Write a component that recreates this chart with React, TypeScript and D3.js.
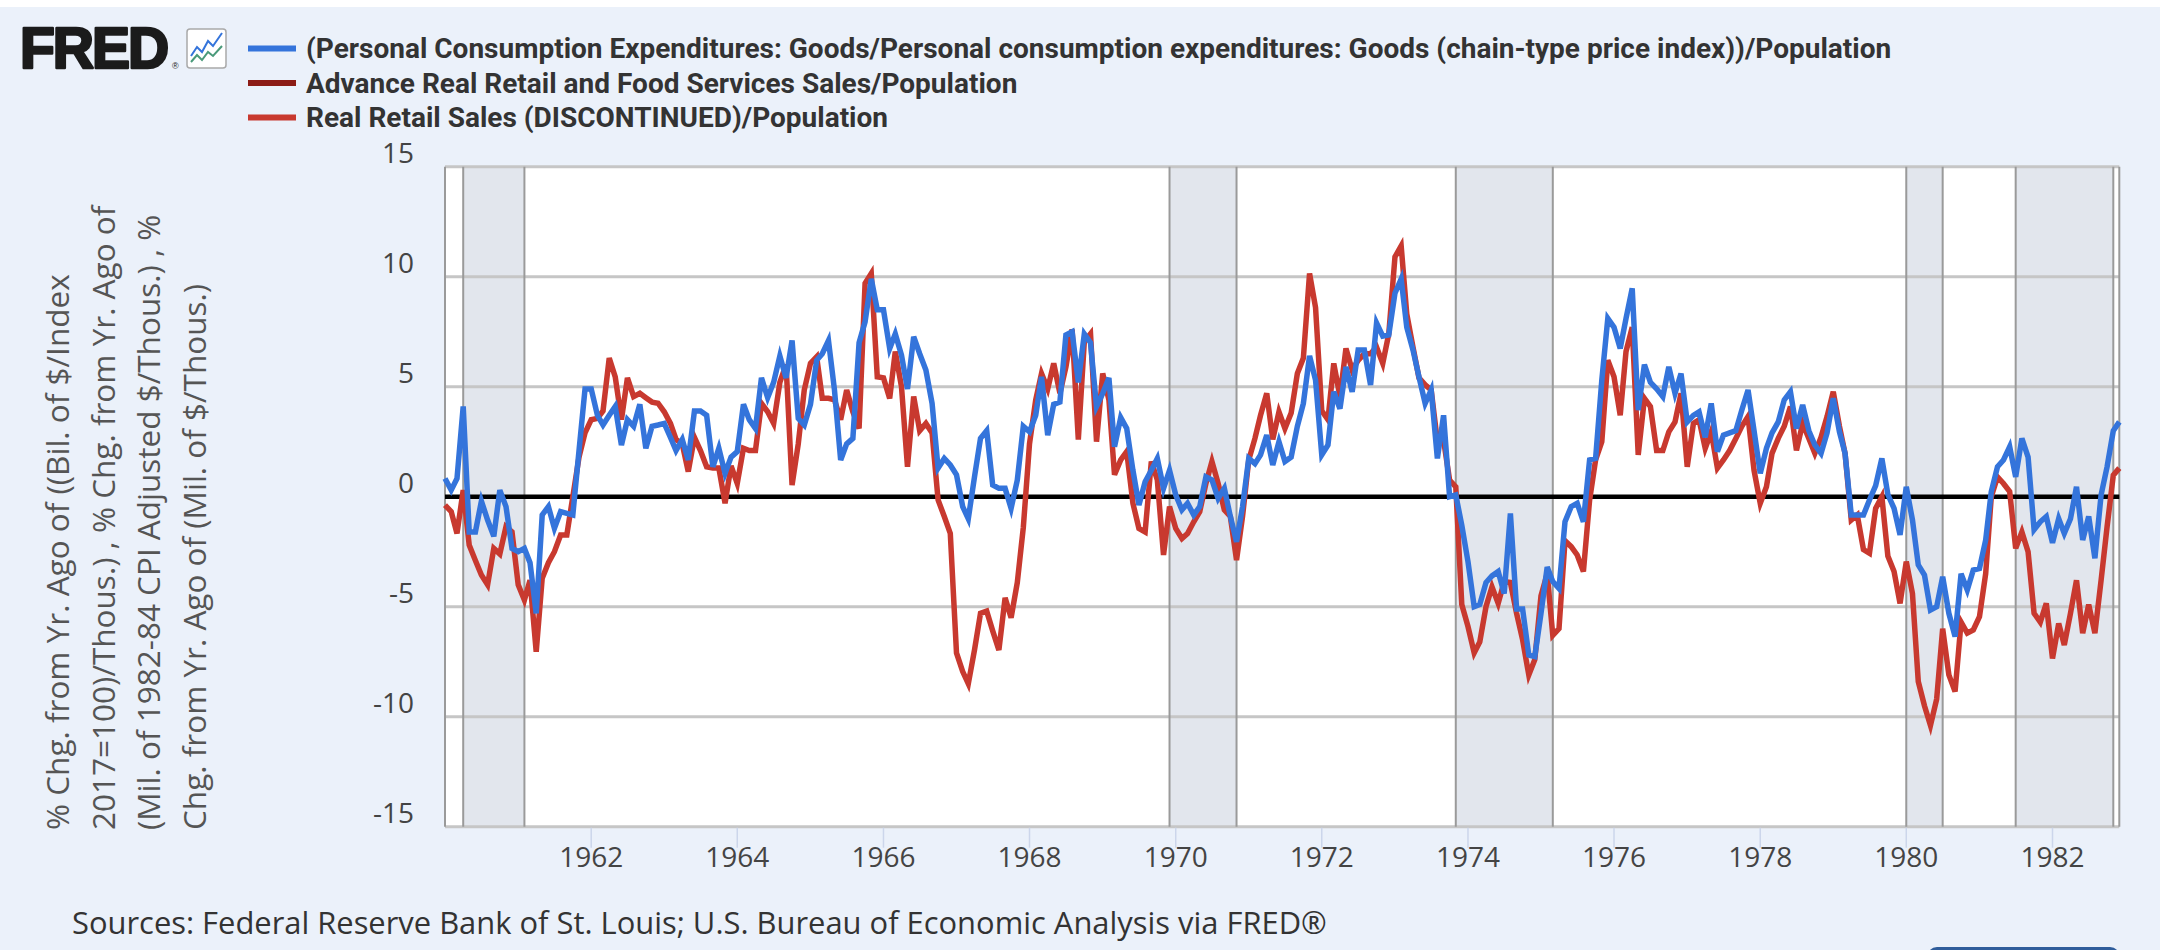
import React from "react";
import * as d3 from "d3";

const START = "1960-01";
const pceGoods: number[] = [
  0.83, 0.3, 0.83, 4.1, -1.6, -1.6, -0.2, -1.06, -1.8, 0.3, -0.45, -2.35,
  -2.5, -2.35, -3.0, -5.3, -0.83, -0.45, -1.44, -0.68, -0.76, -0.83, 2.1, 4.9,
  4.9, 3.7, 3.26, 3.7, 4.1, 2.35, 3.5, 3.2, 4.2, 2.2, 3.2, 3.26,
  3.33, 2.7, 2.1, 2.6, 1.67, 3.9, 3.9, 3.7, 1.36, 2.2, 1.06, 1.8,
  2.05, 4.2, 3.5, 3.1, 5.4, 4.5, 5.2, 6.4, 5.4, 7.1, 3.56, 3.26,
  4.2, 6.2, 6.5, 7.1, 4.85, 1.67, 2.4, 2.65, 7.0, 7.95, 9.9, 8.5,
  8.5, 6.74, 7.4, 6.44, 4.9, 7.27, 6.5, 5.76, 4.24, 1.3, 1.74, 1.44,
  1.0, -0.45, -1.0, 0.9, 2.65, 3.0, 0.53, 0.38, 0.38, -0.53, 0.76, 3.2,
  2.95, 3.7, 5.45, 2.8, 4.2, 4.3, 7.35, 7.5, 5.2, 7.4, 7.0, 4.1,
  4.7, 5.4, 2.27, 3.6, 3.1, 1.2, -0.38, 0.68, 1.2, 1.74, 0.38, 1.2,
  0.08, -0.6, -0.3, -0.83, -0.45, 0.9, 0.76, -0.08, 0.38, -0.9, -2.05, -0.45,
  1.74, 1.5, 1.9, 2.8, 1.44, 2.5, 1.6, 1.8, 3.2, 4.24, 6.4, 5.3,
  1.9, 2.35, 4.77, 4.0, 5.9, 4.77, 6.67, 6.67, 5.08, 7.9, 7.3, 7.35,
  9.25, 9.9, 7.7, 6.67, 5.45, 4.24, 4.85, 1.74, 3.7, 0.0, 0.08, -1.3,
  -2.95, -5.0, -4.9, -3.9, -3.6, -3.4, -4.4, -0.76, -5.1, -5.1, -7.2, -7.27,
  -5.3, -3.2, -3.86, -4.17, -1.14, -0.45, -0.3, -1.14, 1.67, 1.74, 5.3, 8.1,
  7.7, 6.74, 8.1, 9.47, 3.94, 6.0, 5.2, 4.9, 4.55, 5.9, 4.7, 5.6,
  3.4, 3.7, 3.86, 2.7, 4.24, 2.05, 2.8, 2.9, 3.0, 3.94, 4.85, 3.0,
  1.06, 2.2, 2.9, 3.4, 4.4, 4.77, 3.1, 4.17, 3.0, 2.35, 1.97, 2.9,
  4.47, 2.95, 1.97, -0.83, -0.83, -0.83, -0.15, 0.5, 1.74, 0.1, -0.53, -1.74,
  0.45, -1.06, -3.1, -3.56, -5.15, -5.0, -3.64, -5.3, -6.36, -3.5, -4.24, -3.33,
  -3.26, -1.97, 0.23, 1.36, 1.67, 2.27, 0.9, 2.65, 1.8, -1.5, -1.14, -0.9,
  -2.1, -1.0, -1.67, -1.0, 0.45, -1.97, -0.9, -2.8, 0.08, 1.36, 3.0, 3.4,
];
const realRetail: number[] = [
  -0.38, -0.68, -1.67, 0.3, -2.2, -2.9, -3.56, -4.0, -2.35, -2.6, -1.36, -1.6,
  -4.0, -4.7, -3.8, -7.05, -3.7, -3.0, -2.5, -1.74, -1.74, 0.0, 1.8, 2.9,
  3.5, 3.56, 3.9, 6.3, 5.45, 3.5, 5.4, 4.55, 4.7, 4.5, 4.3, 4.25,
  3.86, 3.33, 2.6, 2.4, 1.14, 2.7, 2.1, 1.36, 1.3, 1.3, -0.3, 1.4,
  0.6, 2.2, 2.1, 2.1, 4.24, 3.86, 3.33, 5.2, 6.0, 0.53, 2.4, 4.85,
  6.06, 6.36, 4.47, 4.47, 4.4, 3.5, 4.85, 3.86, 3.1, 9.7, 10.15, 5.45,
  5.4, 4.47, 6.6, 5.0, 1.36, 4.55, 3.0, 3.33, 2.9, -0.15, -0.9, -1.67,
  -7.1, -7.95, -8.5, -6.97, -5.3, -5.2, -6.1, -6.97, -4.6, -5.5, -3.9, -1.4,
  2.4, 4.4, 5.6, 4.9, 6.06, 4.7, 5.9, 7.6, 2.6, 7.05, 7.4, 2.5,
  5.6, 4.4, 1.0, 1.67, 2.05, -0.3, -1.44, -1.6, 1.6, 0.76, -2.65, -0.45,
  -1.44, -1.9, -1.67, -1.14, -0.68, 0.6, 1.6, 0.6, -0.6, -0.9, -2.88, -0.9,
  1.67, 2.65, 3.7, 4.7, 2.6, 3.86, 3.1, 3.8, 5.6, 6.3, 10.15, 8.6,
  3.9, 3.5, 6.06, 4.55, 6.74, 5.76, 6.2, 6.5, 6.5, 6.8, 6.06, 7.4,
  10.9, 11.4, 8.3, 6.8, 5.4, 5.08, 4.85, 2.5, 2.57, 0.76, 0.45, -4.9,
  -5.9, -7.1, -6.6, -5.0, -4.1, -4.85, -3.86, -3.9, -5.3, -6.5, -8.1, -7.4,
  -4.5, -3.5, -6.3, -6.0, -2.0, -2.27, -2.65, -3.4, -0.15, 1.67, 2.5, 6.2,
  5.45, 3.7, 6.6, 7.7, 1.9, 4.47, 4.1, 2.1, 2.1, 2.95, 3.4, 4.7,
  1.36, 3.33, 3.5, 2.2, 2.95, 1.3, 1.67, 2.1, 2.65, 3.2, 3.64, 1.2,
  -0.3, 0.45, 1.97, 2.65, 3.2, 4.1, 2.1, 3.33, 2.65, 1.97, 2.7, 3.64,
  4.77, 3.2, 1.97, -1.06, -0.83, -2.4, -2.57, -0.53, 0.0, -2.7, -3.4, -4.85,
  -2.95, -4.4, -8.4, -9.5, -10.4, -9.2, -6.0, -8.1, -8.86, -5.7, -6.2, -6.06,
  -5.45, -3.5, 0.0, 0.9, 0.6, 0.23, -2.35, -1.6, -2.5, -5.3, -5.7, -4.85,
  -7.35, -5.76, -6.74, -5.3, -3.8, -6.2, -4.9, -6.2, -3.8, -1.36, 0.98, 1.3,
];
const recessions: [string, string][] = [
  ["1960-04", "1961-02"],
  ["1969-12", "1970-11"],
  ["1973-11", "1975-03"],
  ["1980-01", "1980-07"],
  ["1981-07", "1982-11"],
];
const yTicks = [15, 10, 5, 0, -5, -10, -15];
const xTickYears = [1962, 1964, 1966, 1968, 1970, 1972, 1974, 1976, 1978, 1980, 1982];
const legendLabels = [
  "(Personal Consumption Expenditures: Goods/Personal consumption expenditures: Goods (chain-type price index))/Population",
  "Advance Real Retail and Food Services Sales/Population",
  "Real Retail Sales (DISCONTINUED)/Population",
];
const legendColors = ["#3474db", "#8c1c16", "#c8392f"];
const yTitleLines = [
  "% Chg. from Yr. Ago of ((Bil. of $/Index",
  "2017=100)/Thous.) , % Chg. from Yr. Ago of",
  "(Mil. of 1982-84 CPI Adjusted $/Thous.) , %",
  "Chg. from Yr. Ago of (Mil. of $/Thous.)",
];
const sourceText =
  "Sources: Federal Reserve Bank of St. Louis; U.S. Bureau of Economic Analysis via FRED®";

const parseMonth = d3.timeParse("%Y-%m");

export default function App() {
  const W = 2160;
  const H = 950;
  const left = 445;
  const right = 2119.3;
  const top = 166.7;
  const bottom = 826.7;

  const start = parseMonth(START) as Date;
  const months = (n: number) => d3.timeMonth.offset(start, n);
  const lastDate = months(pceGoods.length - 1);

  const x = d3.scaleTime().domain([start, lastDate]).range([left, right]);
  const y = d3.scaleLinear().domain([-15, 15]).range([bottom, top]);

  const line = d3
    .line<number>()
    .x((_, i) => x(months(i)))
    .y((v) => y(v));

  const sansTick = "'Open Sans', 'DejaVu Sans', sans-serif";

  return (
    <svg
      width={W}
      height={H}
      style={{ position: "absolute", left: 0, top: 0, display: "block" }}
    >
      <rect x={0} y={0} width={W} height={H} fill="#ebf1fa" />
      <rect x={0} y={0} width={W} height={7} fill="#ffffff" />

      {/* FRED logo */}
      <text
        x={20}
        y={68}
        fontFamily="'Liberation Sans', Arial, sans-serif"
        fontWeight={900}
        fontSize={57}
        letterSpacing={-2}
        fill="#1b1b1b"
        stroke="#1b1b1b"
        strokeWidth={2.6}
        strokeLinejoin="round"
      >
        FRED
      </text>
      <text x={172} y={69} fontFamily="'Liberation Sans', sans-serif" fontSize={9} fill="#1b1b1b">
        ®
      </text>
      <rect x={187} y={29} width={39} height={39} rx={3} fill="#ffffff" stroke="#a9a9a9" strokeWidth={1.5} />
      <polyline
        points="191,56 197,47 202,52 208,41 213,46 222,33"
        fill="none"
        stroke="#3474db"
        strokeWidth={2}
      />
      <polyline
        points="191,62 197,55 202,60 208,52 213,56 222,46"
        fill="none"
        stroke="#4a9a7a"
        strokeWidth={2}
      />

      {/* Legend */}
      {legendLabels.map((lab, i) => (
        <g key={lab} transform={`translate(0, ${48.5 + i * 34.5})`}>
          <line x1={248} x2={296} y1={0} y2={0} stroke={legendColors[i]} strokeWidth={6} />
          <text
            x={306}
            y={9.5}
            fontFamily="Roboto, 'Liberation Sans', sans-serif"
            fontWeight={700}
            fontSize={28}
            fill="#333333"
          >
            {lab}
          </text>
        </g>
      ))}

      {/* Plot background */}
      <rect x={left} y={top} width={right - left} height={bottom - top} fill="#ffffff" />

      {/* Recessions */}
      {recessions.map(([a, b]) => {
        const x0 = x(parseMonth(a) as Date);
        const x1 = x(parseMonth(b) as Date);
        return (
          <rect key={a} x={x0} y={top} width={x1 - x0} height={bottom - top} fill="#e2e6ed" />
        );
      })}

      {/* Grid */}
      {yTicks.map((t) => (
        <line key={t} x1={left} x2={right} y1={y(t)} y2={y(t)} stroke="#c6c6c6" strokeWidth={3} />
      ))}

      {recessions.map(([a, b]) => {
        const x0 = x(parseMonth(a) as Date);
        const x1 = x(parseMonth(b) as Date);
        return (
          <g key={"e" + a}>
            <line x1={x0} x2={x0} y1={top} y2={bottom} stroke="#9a9a9a" strokeWidth={2} />
            <line x1={x1} x2={x1} y1={top} y2={bottom} stroke="#9a9a9a" strokeWidth={2} />
          </g>
        );
      })}

      {/* plot edges */}
      <line x1={left} x2={left} y1={top} y2={bottom} stroke="#9a9a9a" strokeWidth={2} />
      <line x1={right} x2={right} y1={top} y2={bottom} stroke="#9a9a9a" strokeWidth={2} />

      {/* Zero line */}
      <line x1={left} x2={right} y1={y(0)} y2={y(0)} stroke="#000000" strokeWidth={4.5} />

      {/* Series */}
      <path d={line(realRetail) ?? ""} fill="none" stroke="#c8392f" strokeWidth={5.5} strokeLinejoin="miter" />
      <path d={line(pceGoods) ?? ""} fill="none" stroke="#3474db" strokeWidth={5.5} strokeLinejoin="miter" />

      {/* Y ticks */}
      {yTicks.map((t) => (
        <text
          key={"yl" + t}
          x={414}
          y={y(t) - 3.5}
          textAnchor="end"
          fontFamily={sansTick}
          fontSize={28}
          fill="#444444"
        >
          {t}
        </text>
      ))}

      {/* X ticks */}
      {xTickYears.map((yr) => {
        const xx = x(new Date(yr, 0, 1));
        return (
          <g key={yr}>
            <line x1={xx} x2={xx} y1={bottom + 1} y2={bottom + 21} stroke="#ccd6eb" strokeWidth={1.5} />
            <text
              x={xx}
              y={866.5}
              textAnchor="middle"
              fontFamily={sansTick}
              fontSize={28}
              fill="#444444"
            >
              {yr}
            </text>
          </g>
        );
      })}

      {/* Y title */}
      {yTitleLines.map((ln, i) => (
        <text
          key={ln}
          transform={`translate(${69 + i * 45.5}, 830) rotate(-90)`}
          textAnchor="start"
          fontFamily={sansTick}
          fontSize={31.5}
          fill="#555555"
        >
          {ln}
        </text>
      ))}

      {/* Source */}
      <text x={72} y={934} fontFamily={sansTick} fontSize={30.9} fill="#333333">
        {sourceText}
      </text>

      {/* cut-off button */}
      <rect x={1927} y={947} width={193} height={30} rx={10} fill="#2f5d9b" />
    </svg>
  );
}
